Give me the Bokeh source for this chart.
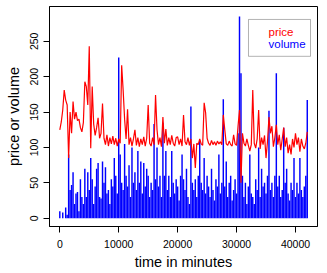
from bokeh.plotting import figure
from bokeh.models import FixedTicker, BoxAnnotation, Label, Range1d, ColumnDataSource
from bokeh.embed import file_html
from bokeh.resources import INLINE

# ---- data (one sample every 250 minutes) ----
step_minutes = 250
volume = [10, 0, 8, 0, 15, 5, 90, 40, 47, 65, 20, 35, 37, 10, 55, 30, 20, 70, 30, 65,
          40, 85, 55, 20, 45, 70, 78, 30, 28, 80, 50, 72, 35, 40, 20, 55, 45, 85, 60, 35,
          227, 90, 50, 40, 105, 60, 45, 75, 30, 100, 50, 65, 40, 95, 50, 80, 35, 78, 45, 70,
          60, 30, 50, 40, 133, 55, 100, 45, 60, 30, 135, 60, 95, 40, 60, 30, 95, 50, 35, 55,
          45, 25, 60, 90, 55, 40, 70, 30, 20, 158, 50, 40, 55, 30, 60, 110, 50, 40, 85, 35,
          60, 45, 30, 70, 40, 25, 55, 45, 90, 35, 50, 168, 45, 80, 30, 50, 60, 25, 40, 55,
          35, 120, 285, 205, 60, 30, 50, 20, 45, 90, 35, 30, 20, 55, 40, 100, 30, 70, 45, 50,
          35, 60, 152, 40, 50, 30, 60, 205, 45, 60, 30, 40, 128, 50, 70, 35, 25, 50, 40, 85,
          30, 50, 35, 85, 40, 30, 45, 60, 167]
price = [125, 136, 153, 181, 167, 160, 85, 150, 120, 165, 140, 150, 138, 140, 128, 122, 135, 193, 186, 160,
         243, 99, 186, 133, 117, 128, 142, 113, 120, 162, 113, 104, 118, 102, 114, 105, 116, 104, 113, 102,
         112, 106, 216, 181, 140, 112, 154, 104, 114, 102, 112, 125, 103, 114, 101, 112, 104, 115, 102, 113,
         160, 106, 102, 114, 104, 174, 125, 104, 114, 101, 143, 106, 126, 103, 114, 104, 117, 106, 102, 114,
         115, 104, 112, 102, 146, 108, 104, 114, 103, 112, 85, 105, 71, 106, 104, 112, 105, 103, 163, 149,
         113, 106, 103, 110, 104, 108, 103, 109, 105, 108, 104, 146, 125, 105, 103, 109, 104, 102, 118, 105,
         103, 130, 153, 50, 120, 106, 102, 112, 103, 95, 104, 181, 106, 99, 112, 153, 98, 114, 104, 117,
         85, 108, 143, 120, 130, 101, 114, 132, 104, 118, 96, 112, 128, 101, 114, 92, 104, 90, 112, 100,
         120, 104, 114, 94, 112, 102, 98, 106, 122]
minutes = [i * step_minutes for i in range(len(volume))]
x_ticks = [0, 10000, 20000, 30000, 40000]
y_ticks = [0, 50, 100, 150, 200, 250]
legend_labels = ["price", "volume"]
legend_colors = ["red", "blue"]

FONT = "Liberation Sans"
X0, X1 = -1748, 43737
Y0, Y1 = -11.7, 299.2

W, H = 326, 272
p = figure(width=W, height=H, output_backend="svg", toolbar_location=None,
           x_range=Range1d(X0, X1), y_range=Range1d(Y0, Y1),
           min_border_left=49, min_border_right=W - 317, min_border_top=6,
           min_border_bottom=H - 227)

src = ColumnDataSource(dict(t=minutes, v=volume, p=price))
p.vbar(x="t", top="v", bottom=0, width=245, source=src, fill_color="blue", line_color=None)
p.line(x="t", y="p", source=src, line_color="red", line_width=1.2)

p.xgrid.visible = False
p.ygrid.visible = False
p.outline_line_color = "black"
p.outline_line_width = 1
p.background_fill_color = "white"
p.border_fill_color = "white"

for ax, ticks in ((p.xaxis[0], x_ticks), (p.yaxis[0], y_ticks)):
    ax.ticker = FixedTicker(ticks=ticks)
    ax.minor_tick_line_color = None
    ax.major_tick_in = 0
    ax.major_tick_out = 6
    ax.axis_line_color = "black"
    ax.major_tick_line_color = "black"
    ax.major_label_text_font = FONT
    ax.major_label_text_font_size = "10.5px"
    ax.major_label_text_color = "black"
    ax.axis_label_text_font = FONT
    ax.axis_label_text_font_size = "14.5px"
    ax.axis_label_text_font_style = "normal"
    ax.axis_label_text_color = "black"

p.xaxis.major_label_standoff = 7
p.yaxis.major_label_standoff = 5
p.xaxis.axis_label = "time in minutes"
p.yaxis.axis_label = "price or volume"
p.xaxis.axis_label_standoff = 3
p.yaxis.axis_label_standoff = 6
p.yaxis.major_label_orientation = "vertical"

# legend box (text only, like R's legend without symbols)
p.add_layout(BoxAnnotation(left=32026, right=42549, bottom=228.8, top=280.9,
                           fill_color=None, line_color="black", line_width=1))
for lab, col, yv in zip(legend_labels, legend_colors, [262.6, 245.7]):
    p.add_layout(Label(x=35421, y=yv, text=lab, text_color=col, text_font=FONT,
                       text_font_size="11.5px", text_baseline="middle", text_align="left"))

open("out.html", "w").write(file_html(p, INLINE))
